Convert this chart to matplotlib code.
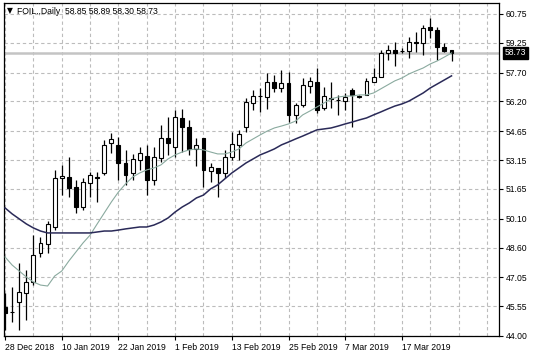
import numpy as np
import matplotlib.pyplot as plt

plt.rcParams['font.family'] = ['Liberation Sans', 'DejaVu Sans']

# --- data (daily candles, FOIL.) ---
title = "FOIL.,Daily  58.85 58.89 58.30 58.73"

opens = [45.52, 45.27, 45.78, 46.22, 46.82, 48.30, 48.78, 49.68, 52.22, 52.28,
         51.76, 50.72, 51.97, 52.28, 52.46, 54.02, 53.93, 53.01, 52.46, 53.15,
         53.36, 52.11, 53.24, 54.28, 53.84, 55.32, 54.88, 53.71, 54.28, 52.60,
         52.72, 52.46, 53.32, 53.93, 54.88, 56.13, 56.46, 56.44, 57.22, 56.88,
         57.14, 55.49, 56.01, 57.00, 57.22, 55.84, 56.38, 56.28, 56.24, 56.79,
         56.42, 56.53, 57.22, 57.48, 58.73, 58.87, 58.80, 58.84, 59.27, 59.22,
         60.05, 59.94, 59.01, 58.85]
highs = [46.22, 46.56, 47.78, 47.43, 49.25, 49.16, 50.00, 52.63, 52.89, 53.32,
         52.11, 52.20, 52.54, 52.54, 54.19, 54.54, 54.36, 53.67, 53.46, 53.84,
         53.93, 53.84, 54.97, 55.40, 55.75, 55.79, 55.23, 54.28, 54.30, 52.98,
         52.76, 53.67, 54.62, 54.71, 56.36, 56.79, 56.88, 57.66, 57.57, 57.83,
         57.74, 56.10, 57.40, 57.48, 57.92, 56.96, 57.22, 56.53, 56.62, 56.88,
         56.53, 57.40, 57.92, 58.87, 59.13, 59.27, 58.96, 59.56, 59.82, 60.17,
         60.52, 60.08, 59.22, 58.89]
lows = [44.31, 44.74, 44.31, 44.83, 46.65, 48.12, 48.30, 49.51, 51.33, 51.24,
        50.38, 50.55, 51.24, 50.98, 52.37, 53.50, 52.11, 51.85, 52.11, 52.63,
        51.33, 51.85, 53.06, 53.41, 53.32, 53.58, 53.41, 52.84, 51.76, 52.02,
        51.24, 52.20, 53.15, 53.15, 54.62, 55.75, 55.66, 55.79, 56.70, 56.70,
        55.14, 55.06, 55.92, 56.62, 55.58, 55.75, 55.84, 55.49, 55.75, 54.88,
        56.36, 56.53, 57.20, 57.46, 58.35, 58.04, 58.73, 58.44, 58.78, 58.61,
        59.48, 58.35, 58.78, 58.30]
closes = [45.18, 45.24, 46.30, 46.82, 48.21, 48.82, 49.82, 52.20, 52.32, 51.68,
          50.72, 52.02, 52.37, 52.22, 53.93, 54.23, 52.98, 52.37, 53.19, 53.53,
          52.11, 53.29, 54.28, 54.02, 55.40, 54.88, 53.71, 53.93, 52.63, 52.77,
          52.46, 53.32, 53.98, 54.50, 56.18, 56.48, 56.50, 57.22, 56.88, 57.17,
          55.49, 56.01, 57.05, 57.26, 55.75, 56.48, 56.34, 56.26, 56.41, 56.53,
          56.46, 57.28, 57.48, 58.73, 58.87, 58.73, 58.84, 59.27, 59.23, 60.00,
          59.91, 59.01, 58.84, 58.73]

# moving averages as drawn on the chart (fast = light, slow = dark)
ma_fast = [48.11, 47.69, 47.38, 47.07, 46.81, 46.65, 46.60, 47.12, 47.38, 47.90,
           48.37, 48.84, 49.25, 49.83, 50.40, 50.97, 51.49, 51.91, 52.27, 52.48,
           52.64, 52.74, 52.90, 53.21, 53.42, 53.57, 53.68, 53.73, 53.68, 53.57,
           53.47, 53.47, 53.57, 53.73, 54.04, 54.25, 54.46, 54.66, 54.82, 54.92,
           55.03, 55.18, 55.50, 55.70, 55.91, 56.12, 56.33, 56.43, 56.48, 56.48,
           56.54, 56.54, 56.64, 56.85, 57.06, 57.27, 57.42, 57.63, 57.79, 57.94,
           58.15, 58.31, 58.51, 58.72]
ma_slow = [50.66, 50.35, 50.09, 49.83, 49.62, 49.46, 49.36, 49.36, 49.36, 49.36,
           49.36, 49.36, 49.36, 49.41, 49.46, 49.46, 49.51, 49.57, 49.62, 49.67,
           49.67, 49.77, 49.93, 50.14, 50.45, 50.71, 50.92, 51.18, 51.33, 51.65,
           51.86, 52.17, 52.48, 52.74, 53.00, 53.21, 53.42, 53.57, 53.73, 53.94,
           54.09, 54.25, 54.40, 54.56, 54.72, 54.77, 54.82, 54.92, 55.03, 55.13,
           55.24, 55.34, 55.50, 55.65, 55.81, 55.96, 56.07, 56.22, 56.43, 56.64,
           56.90, 57.11, 57.32, 57.53]

last_price = 58.73
price_ticks = [44.00, 45.55, 47.05, 48.60, 50.10, 51.65, 53.15, 54.65, 56.20, 57.70, 59.25, 60.75]
date_labels = ["28 Dec 2018", "10 Jan 2019", "22 Jan 2019", "1 Feb 2019",
               "13 Feb 2019", "25 Feb 2019", "7 Mar 2019", "17 Mar 2019"]
bars_per_label = 8
bars_per_grid = 4

# --- figure ---
W, H = 536, 358
fig = plt.figure(figsize=(W / 100, H / 100), dpi=100)
ax = fig.add_axes([4 / W, 1 - 336 / H, 495 / W, 333 / H])

idx = np.arange(len(opens))
o = np.array(opens)
c = np.array(closes)
up = c >= o

grid_kw = dict(color="#bcbcbc", linewidth=0.8, linestyle=(0, (3, 2.5)))

ax.axhline(last_price, color="#c4c4c4", linewidth=1.8, zorder=1)

ax.vlines(idx, lows, highs, color="black", linewidth=0.9, zorder=2)
body_h = np.abs(c - o)
body_b = np.minimum(o, c)
ax.bar(idx, body_h, bottom=body_b, width=0.55,
       color=np.where(up, "white", "black"), edgecolor="black", linewidth=0.8, zorder=3)

ax.plot(idx, ma_fast, color="#8aaa9f", linewidth=0.8, zorder=4)
ax.plot(idx, ma_slow, color="#2a2a58", linewidth=1.1, zorder=4)

ax.set_xlim(-0.15, 69.7)
ax.set_ylim(44.0, 61.32)

# y axis on the right
ax.yaxis.tick_right()
ax.set_yticks(price_ticks)
ax.set_yticklabels([f"{v:.2f}" for v in price_ticks])
ax.tick_params(axis="y", length=3, pad=2, labelsize=6.2, width=0.8)

label_pos = np.arange(len(date_labels)) * bars_per_label
ax.set_xticks(label_pos)
ax.set_xticklabels(date_labels, ha="left")
grid_pos = [g for g in range(0, 70, bars_per_grid) if g not in label_pos]
ax.set_xticks(grid_pos, minor=True)
ax.tick_params(axis="x", length=3, pad=2, labelsize=6.2, width=0.8)
ax.tick_params(axis="x", which="minor", length=0)

ax.grid(True, which="both", axis="x", **grid_kw)
ax.grid(True, which="major", axis="y", **grid_kw)
ax.set_axisbelow(True)

for s in ax.spines.values():
    s.set_color("black")
    s.set_linewidth(0.9)

# last price tag
ax.text(1.012, last_price, f"{last_price:.2f}", transform=ax.get_yaxis_transform(),
        color="white", fontsize=6.2, va="center", ha="left",
        bbox=dict(boxstyle="square,pad=0.2", fc="black", ec="black"))

# header
fig.text(7 / W, 1 - 11 / H, "\u25bc", fontsize=5.5, va="center", ha="left",
         family=["DejaVu Sans"])
fig.text(17 / W, 1 - 11 / H, title, fontsize=6.2, va="center", ha="left")

fig.savefig("out.png", dpi=100)
